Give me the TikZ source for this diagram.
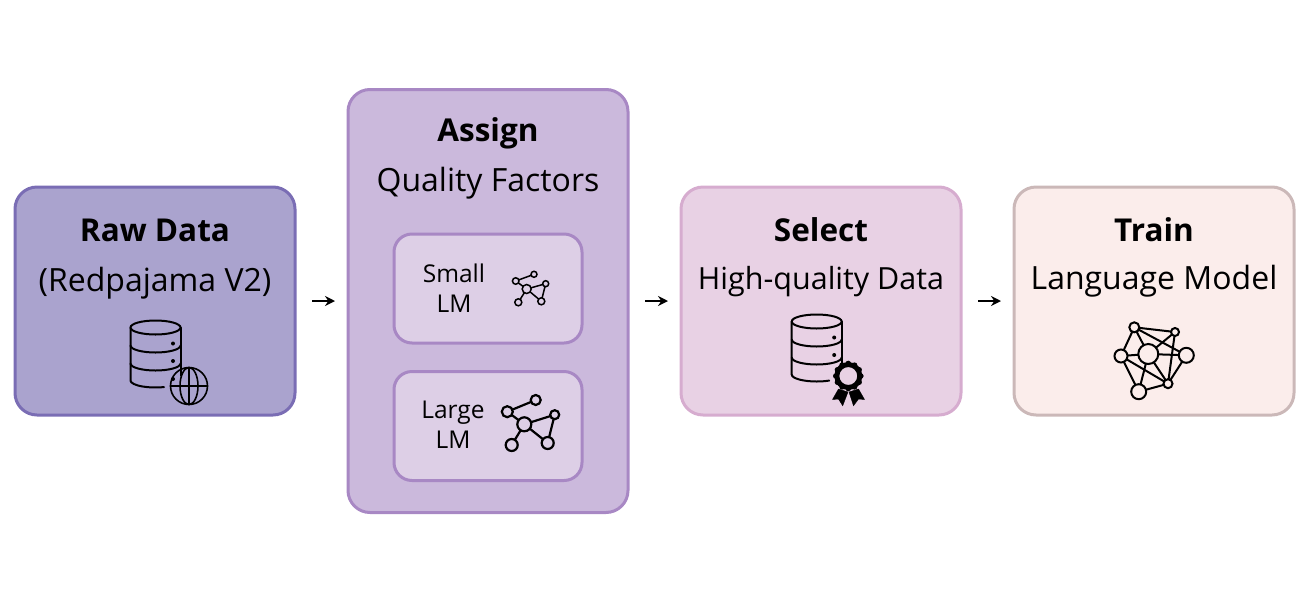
\documentclass[tikz,border=0pt]{standalone}
\usepackage{fontspec}
\setmainfont{Open Sans}
\usetikzlibrary{positioning,arrows.meta}

\definecolor{rawfill}{HTML}{AAA3CE}
\definecolor{rawline}{HTML}{7A6DB4}
\definecolor{assignfill}{HTML}{CBB9DC}
\definecolor{assignline}{HTML}{A888C4}
\definecolor{lmfill}{HTML}{DDCFE6}
\definecolor{selectfill}{HTML}{E8D1E4}
\definecolor{selectline}{HTML}{D6ACCF}
\definecolor{trainfill}{HTML}{FBEDEB}
\definecolor{trainline}{HTML}{CBB8B8}

\tikzset{
  stage/.style={draw, line width=3pt, rounded corners=22pt, minimum width=280pt, minimum height=228pt, outer sep=0pt},
  lmbox/.style={draw=assignline, fill=lmfill, line width=3pt, rounded corners=18pt, minimum width=188pt, minimum height=109pt, outer sep=0pt},
  title/.style={font=\fontsize{31.5}{36}\selectfont\bfseries, inner sep=0pt, text height=22pt, text depth=0pt},
  subtitle/.style={font=\fontsize{32}{36}\selectfont, inner sep=0pt, text height=22pt, text depth=0pt},
  lmtext/.style={font=\fontsize{24.5}{30}\selectfont, align=center, inner sep=0pt},
  flow/.style={-{Stealth[length=10pt,width=10pt]}, line width=2pt, shorten <=17pt, shorten >=13pt},
  dot/.style={circle, draw, fill=none, line width=2pt, inner sep=0pt, outer sep=0pt},
  link/.style={line width=2pt},
  icon/.style={line width=2pt, line cap=round, line join=round},
  pics/dbstack/.style={code={
    \draw[icon] (0,0) ellipse [x radius=25pt, y radius=7pt];
    \draw[icon] (-25,0) -- (-25,53) arc [start angle=180, end angle=#1, x radius=25pt, y radius=7pt];
    \draw[icon] (25,0) -- (25,48);
    \draw[icon] (-25,18) arc [start angle=180, end angle=360, x radius=25pt, y radius=7pt];
    \draw[icon] (-25,36) arc [start angle=180, end angle=360, x radius=25pt, y radius=7pt];
    \fill (17.5,16) circle (2pt);
    \fill (17.5,33.5) circle (2pt);
  }}
}

\begin{document}
\begin{tikzpicture}[x=1pt,y=-1pt]
  \useasboundingbox (0,0) rectangle (1310,598);

  \node (raw) [stage, draw=rawline, fill=rawfill] at (155,301) {};
  \node (assign) [stage, draw=assignline, fill=assignfill, minimum height=423pt, right=53pt of raw] {};
  \node (select) [stage, draw=selectline, fill=selectfill, right=53pt of assign] {};
  \node (train) [stage, draw=trainline, fill=trainfill, right=53pt of select] {};

  \node (rawtitle) [title, below=43pt of raw.north, anchor=center] {Raw Data};
  \node (rawsub) [subtitle, below=50pt of rawtitle.center, anchor=center] {(Redpajama V2)};
  \node (assigntitle) [title, below=41pt of assign.north, anchor=center] {Assign};
  \node (assignsub) [subtitle, below=50pt of assigntitle.center, anchor=center] {Quality Factors};
  \node (selecttitle) [title, below=43pt of select.north, anchor=center] {Select};
  \node (selectsub) [subtitle, font=\fontsize{30.5}{36}\selectfont, below=48pt of selecttitle.center, anchor=center] {High-quality Data};
  \node (traintitle) [title, below=43pt of train.north, anchor=center] {Train};
  \node (trainsub) [subtitle, below=48.5pt of traintitle.center, anchor=center] {Language Model};

  \node (small) [lmbox] at (488,288.5) {};
  \node (large) [lmbox, below=28.5pt of small] {};
  \node (smalltext) [lmtext] at (454,288.5) {Small\\LM};
  \node (largetext) [lmtext] at (453,425) {Large\\LM};

  % arrows between the stages
  \draw[flow] (raw) -- (assign);
  \draw[flow] (assign) -- (select);
  \draw[flow] (select) -- (train);

  % raw data icon
  \pic at (155.5,327.5) {dbstack=290};
  \fill (173,379) circle (2pt);
  \node (globe) [dot, line width=1.6pt, minimum size=37pt] at (189,386) {};
  \draw[icon, line width=1.6pt] (globe.north) -- (globe.south);
  \draw[icon, line width=1.6pt] (globe.west) -- (globe.east);
  \draw[icon, line width=1.6pt] (189,386) ellipse [x radius=9pt, y radius=18.5pt];

  % select icon
  \pic at (816.7,321.5) {dbstack=300};
  \draw[black, fill=black] (838.5,389) -- (832.5,399.5) -- (838.5,399) -- (842.7,405.7) -- (848,392) -- cycle;
  \draw[black, fill=black] (858.5,389) -- (864.5,399.5) -- (858.5,399) -- (853.5,405.7) -- (849,392) -- cycle;
  \foreach \ang in {0,30,...,330}
    \fill (848.3,376) ++(\ang:12.5) circle (2.8pt);
  \node (seal) [circle, draw, fill=selectfill, line width=5pt, minimum size=23pt, inner sep=0pt] at (848.3,376) {};

  % small network
  \foreach \name/\xx/\yy/\rr in {sa/515.7/281/6.5, sb/534/274.3/6, sc/545.7/283.7/6, sd/526.7/289/9, se/518.3/302.3/7, sf/541.3/301.3/7}
    \node (\name) [dot, minimum size=\rr pt, line width=1.5pt] at (\xx,\yy) {};
  \foreach \from/\to in {sa/sb, sa/sd, sd/sc, sc/sf, sd/sf, sd/se}
    \draw[link, line width=1.5pt] (\from) -- (\to);

  % large network
  \foreach \name/\xx/\yy/\rr in {la/507.3/411.7/11, lb/535.7/400/10, lc/554.7/414.7/9, ld/524.3/424.3/14, le/511.7/445/12, lf/547.7/443/12}
    \node (\name) [dot, minimum size=\rr pt, line width=2.2pt] at (\xx,\yy) {};
  \foreach \from/\to in {la/lb, la/ld, ld/lc, lc/lf, ld/lf, ld/le}
    \draw[link, line width=2.2pt] (\from) -- (\to);

  % language model network
  \foreach \name/\xx/\yy/\rr in {ta/1134.3/327.3/10, tb/1175/332/8, tc/1121/356/13, td/1148.3/354/20, te/1186.3/355.3/15, tf/1168/383.7/9, tg/1138.7/391.7/15}
    \node (\name) [dot, minimum size=\rr pt] at (\xx,\yy) {};
  \foreach \from/\to in {ta/tb, ta/te, ta/tc, ta/td, tb/td, tb/tf, tc/td, td/te, tc/tf, tc/tg, td/tf, td/tg, te/tf, tg/tf}
    \draw[link] (\from) -- (\to);
\end{tikzpicture}
\end{document}
